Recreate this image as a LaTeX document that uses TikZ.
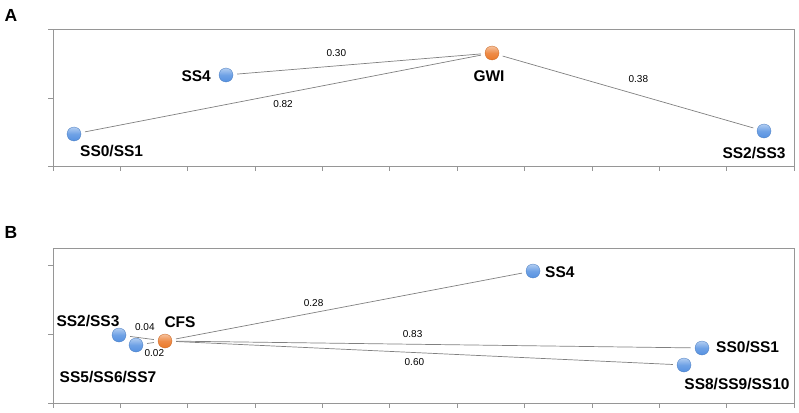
\documentclass[tikz,border=0pt]{standalone}
\usepackage{fontspec}
\setmainfont{Liberation Sans}
\definecolor{ballblue}{RGB}{85,145,225}
\definecolor{ballorange}{RGB}{235,120,40}
\definecolor{axisgray}{RGB}{150,150,150}
\begin{document}
\begin{tikzpicture}[
  x=1pt, y=-1pt,
  ssnode/.style={circle, inner sep=0pt, minimum size=14pt, top color=ballblue!45!white, bottom color=ballblue, middle color=ballblue!85!white, draw=ballblue!85!black, line width=0.3pt},
  grpnode/.style={circle, inner sep=0pt, minimum size=14pt, top color=ballorange!45!white, bottom color=ballorange, middle color=ballorange!85!white, draw=ballorange!85!black, line width=0.3pt},
  ssedge/.style={draw=gray, line width=0.7pt, shorten <=4pt, shorten >=4pt},
  sslbl/.style={font={\fontsize{15.5}{16}\selectfont\bfseries}, inner sep=0pt},
  wlbl/.style={font={\fontsize{10}{11}\selectfont}, inner sep=0pt},
  panel/.style={font={\fontsize{17.5}{18}\selectfont\bfseries}, inner sep=0pt},
  axisline/.style={draw=axisgray, line width=0.7pt}
]
\useasboundingbox (0,0) rectangle (799,412);
% panel A frame and ticks
\node[panel] (pA) at (11,15) {A};
\draw[axisline] (53,29) rectangle (794,166);
\foreach \i in {0,...,11} \draw[axisline] (53+67.36*\i,166) -- ++(0,5);
\foreach \yy in {29,98,166} \draw[axisline] (53,\yy) -- ++(-5,0);
% panel A points
\node[ssnode] (a1) at (74,134) {};
\node[ssnode] (a2) at (226,75) {};
\node[grpnode] (a3) at (492,53) {};
\node[ssnode] (a4) at (764,131) {};
\node[sslbl, anchor=west] (ta1) at (80,151) {SS0/SS1};
\node[sslbl, anchor=east] (ta2) at (211,76) {SS4};
\node[sslbl] (ta3) at (489,76) {GWI};
\node[sslbl] (ta4) at (754,153) {SS2/SS3};
\draw[ssedge] (a2) -- node[wlbl, pos=0.41, yshift=13pt] {0.30} (a3);
\draw[ssedge] (a1) -- node[wlbl, pos=0.50, yshift=-11pt] {0.82} (a3);
\draw[ssedge] (a3) -- node[wlbl, pos=0.54, yshift=16pt] {0.38} (a4);
% panel B frame and ticks
\node[panel] (pB) at (11,232) {B};
\draw[axisline] (53,248) rectangle (794,403);
\foreach \i in {0,...,11} \draw[axisline] (53+67.36*\i,403) -- ++(0,5);
\foreach \yy in {265,334,403} \draw[axisline] (53,\yy) -- ++(-5,0);
% panel B points
\node[ssnode] (b1) at (119,335) {};
\node[ssnode] (b2) at (136,345) {};
\node[grpnode] (b3) at (165,341) {};
\node[ssnode] (b4) at (533,271) {};
\node[ssnode] (b5) at (702,348) {};
\node[ssnode] (b6) at (684,365) {};
\node[sslbl] (tb1) at (88,321) {SS2/SS3};
\node[sslbl] (tb2) at (108,377) {SS5/SS6/SS7};
\node[sslbl] (tb3) at (180,322) {CFS};
\node[sslbl, anchor=west] (tb4) at (545,272) {SS4};
\node[sslbl, anchor=west] (tb5) at (716,347) {SS0/SS1};
\node[sslbl] (tb6) at (737,384) {SS8/SS9/SS10};
\draw[ssedge] (b1) -- node[wlbl, pos=0.59, yshift=11.5pt] {0.04} (b3);
\draw[ssedge] (b2) -- node[wlbl, pos=0.76, yshift=-11pt] {0.02} (b3);
\draw[ssedge] (b3) -- node[wlbl, pos=0.40, yshift=10pt] {0.28} (b4);
\draw[ssedge] (b3) -- node[wlbl, pos=0.46, yshift=10pt] {0.83} (b5);
\draw[ssedge] (b3) -- node[wlbl, pos=0.48, yshift=-9.5pt] {0.60} (b6);
\end{tikzpicture}
\end{document}
